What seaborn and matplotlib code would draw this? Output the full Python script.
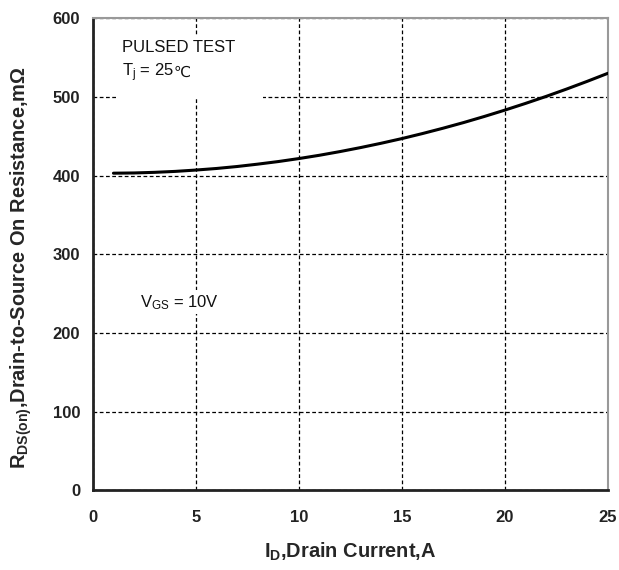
import matplotlib
matplotlib.use("Agg")
import matplotlib.pyplot as plt
from matplotlib.patches import Rectangle
import seaborn as sns
import pandas as pd

# drain current (A) and on-resistance (mOhm)
drain_current = [1, 2, 3, 4, 5, 6, 7, 8, 9, 10, 11, 12, 13, 14, 15, 16, 17, 18, 19, 20, 21, 22, 23, 24, 25]
rds_on = [403.0, 403.3, 404.1, 405.3, 407.0, 409.0, 411.5, 414.5, 417.8, 421.6, 425.8, 430.5, 435.6,
          441.1, 447.0, 453.4, 460.2, 467.4, 475.1, 483.2, 491.7, 500.6, 510.0, 519.8, 530.0]
x_ticks = [0, 5, 10, 15, 20, 25]
y_ticks = [0, 100, 200, 300, 400, 500, 600]

sns.set_style("white")
plt.rcParams['font.family'] = ['Liberation Sans', 'DejaVu Sans']
plt.rcParams['mathtext.fontset'] = 'custom'
plt.rcParams['mathtext.rm'] = 'Liberation Sans'
plt.rcParams['mathtext.it'] = 'Liberation Sans'
plt.rcParams['mathtext.bf'] = 'Liberation Sans:bold'

df = pd.DataFrame({'Id': drain_current, 'Rds': rds_on})

fig = plt.figure(figsize=(6.19, 5.70), dpi=100)
ax = fig.add_axes([0.150, 0.140, 0.832, 0.828])

sns.lineplot(data=df, x='Id', y='Rds', color='black', linewidth=2.2, ax=ax, zorder=3)

ax.set_xlim(0, 25)
ax.set_ylim(0, 600)
ax.set_xticks(x_ticks)
ax.set_yticks(y_ticks)

# dashed grid
ax.grid(True, color='black', linestyle=(0, (3, 2)), linewidth=0.9)
ax.set_axisbelow(True)

for side in ['left', 'bottom']:
    ax.spines[side].set_color('#222222')
    ax.spines[side].set_linewidth(2)
for side in ['top', 'right']:
    ax.spines[side].set_color('#999999')
    ax.spines[side].set_linewidth(1.5)

ax.tick_params(direction='in', length=5, width=1, colors='#222222', labelcolor='#222222')
ax.tick_params(axis='x', pad=14)
ax.tick_params(axis='y', pad=9)
for lab in ax.get_xticklabels() + ax.get_yticklabels():
    lab.set_fontsize(12)
    lab.set_fontweight('bold')

ax.set_xlabel(r'$\mathbf{I_D}$,Drain Current,A', fontsize=14.4, fontweight='bold')
ax.set_ylabel(r'$\mathbf{R_{DS(on)}}$,Drain-to-Source On Resistance,m$\mathbf{\Omega}$',
              fontsize=14.4, fontweight='bold')
ax.xaxis.set_label_coords(0.5, -0.107)
ax.yaxis.set_label_coords(-0.115, 0.472)

# white patch behind the test conditions text
ax.add_patch(Rectangle((1.15, 497), 7.1, 82, facecolor='white', edgecolor='none', zorder=2))
ax.text(1.4, 563, 'PULSED TEST', fontsize=12, color='#111111', va='center', ha='left', zorder=4)
tj = ax.text(1.4, 531, r'$\mathrm{T_j}$ = 25', fontsize=12, color='#111111',
             va='center', ha='left', zorder=4)
ax.annotate('\u2103', xy=(1, 0.5), xycoords=tj, va='center', ha='left', fontsize=11,
            color='#111111', family=['DejaVu Sans'], zorder=4)
ax.text(2.3, 239, r'$\mathrm{V_{GS}}$ = 10V', fontsize=12, color='#111111',
        va='center', ha='left',
        bbox=dict(facecolor='white', edgecolor='none', pad=2), zorder=2)

fig.savefig('out.png', dpi=100)
